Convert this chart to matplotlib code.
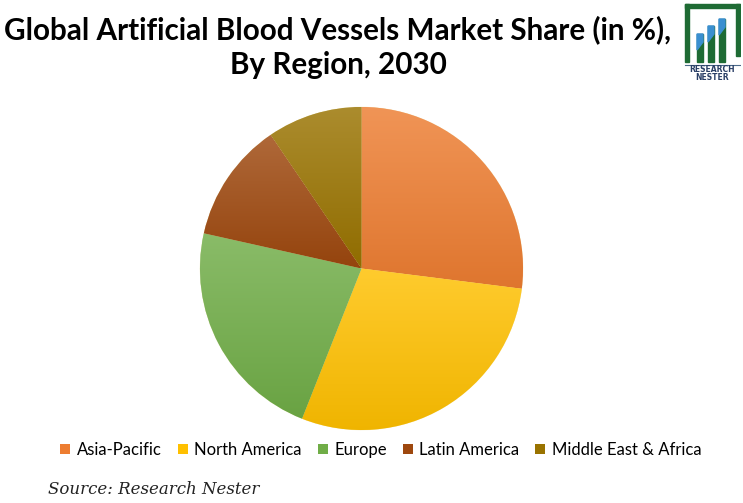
import numpy as np
import matplotlib
matplotlib.use("Agg")
import matplotlib.pyplot as plt
from matplotlib.patches import Patch, Rectangle, Polygon
from matplotlib.colors import to_rgb

regions = ["Asia-Pacific", "North America", "Europe", "Latin America", "Middle East & Africa"]
shares = [27.0, 29.0, 22.5, 12.0, 9.5]
colors = ["#ED7D31", "#FFC000", "#70AD47", "#9E480E", "#997300"]

title = "Global Artificial Blood Vessels Market Share (in %),\nBy Region, 2030"
source = "Source: Research Nester"

W, H = 743, 503
fig = plt.figure(figsize=(W / 100, H / 100), dpi=100)
fig.patch.set_facecolor("white")


def mix(c, other, t):
    c = np.array(to_rgb(c))
    o = np.array(to_rgb(other))
    return tuple(c * (1 - t) + o * t)


# pie: centre ~ (361, 268) px, radius ~ 161 px
ax = fig.add_axes([200 / W, (H - 430) / H, 323 / W, 323 / H])
wedges, _ = ax.pie(shares, colors=colors, startangle=90, counterclock=False,
                   wedgeprops=dict(linewidth=0.4, edgecolor="#f5f0d0"))
ax.set_xlim(-1, 1)
ax.set_ylim(-1, 1)
ax.set_aspect("equal")
ax.axis("off")

# vertical gradient in every slice, lighter on top
for w, c in zip(wedges, colors):
    ext = w.get_window_extent()
    inv = ax.transData.inverted()
    (x0, y0), (x1, y1) = inv.transform([[ext.x0, ext.y0], [ext.x1, ext.y1]])
    top = np.array(mix(c, "white", 0.18))
    bot = np.array(mix(c, "black", 0.06))
    t = np.linspace(0, 1, 256)[:, None]
    img = (top[None, :] * (1 - t) + bot[None, :] * t)[:, None, :]
    im = ax.imshow(img, extent=(x0, x1, y0, y1), aspect="auto", zorder=w.get_zorder() + 0.1,
                   interpolation="bilinear")
    im.set_clip_path(w)
ax.set_xlim(-1, 1)
ax.set_ylim(-1, 1)

fig.text(338 / W, 1 - 47 / H, title, ha="center", va="center", fontsize=21.3,
         fontweight="bold", family="Lato", linespacing=1.3)

handles = [Patch(facecolor=c, edgecolor="none") for c in colors]
fig.legend(handles, regions, loc="center", bbox_to_anchor=(381 / W, 1 - 450 / H), ncol=5,
           frameon=False, handlelength=0.6, handleheight=0.6, handletextpad=0.4,
           columnspacing=0.95, prop=dict(family="Lato", size=12))

fig.text(48 / W, 1 - 489 / H, source, ha="left", va="center", fontsize=12,
         family="DejaVu Serif", style="italic", color="#222222")

# logo
lx = fig.add_axes([684 / W, 1 - 82 / H, 57 / W, 80 / H])
lx.set_xlim(0, 57)
lx.set_ylim(80, 0)
lx.axis("off")
green = "#1E6B34"
blue = "#3A8FD0"
lx.add_patch(Rectangle((1, 2), 4, 58, color=green))
lx.add_patch(Rectangle((1, 2), 55, 4, color=green))
lx.add_patch(Rectangle((52, 2), 4, 52, color=green))
for bx, by in [(13, 32), (24, 24), (35, 17)]:
    lx.add_patch(Rectangle((bx, by), 6, 60 - by, color=green))
    lx.add_patch(Polygon([(bx, by), (bx + 6, by), (bx + 6, by + 8), (bx, by + 16)], color=blue))
lx.plot([1, 56], [63, 63], color="#4a6a8a", lw=0.8)
lx.text(28.5, 68, "RESEARCH", ha="center", va="center", fontsize=5.5, color="#2a3f66",
        fontweight="bold", family="DejaVu Sans")
lx.text(28.5, 76, "NESTER", ha="center", va="center", fontsize=5.5, color="#2a3f66",
        fontweight="bold", family="DejaVu Sans")

fig.savefig("out.png", dpi=100)
